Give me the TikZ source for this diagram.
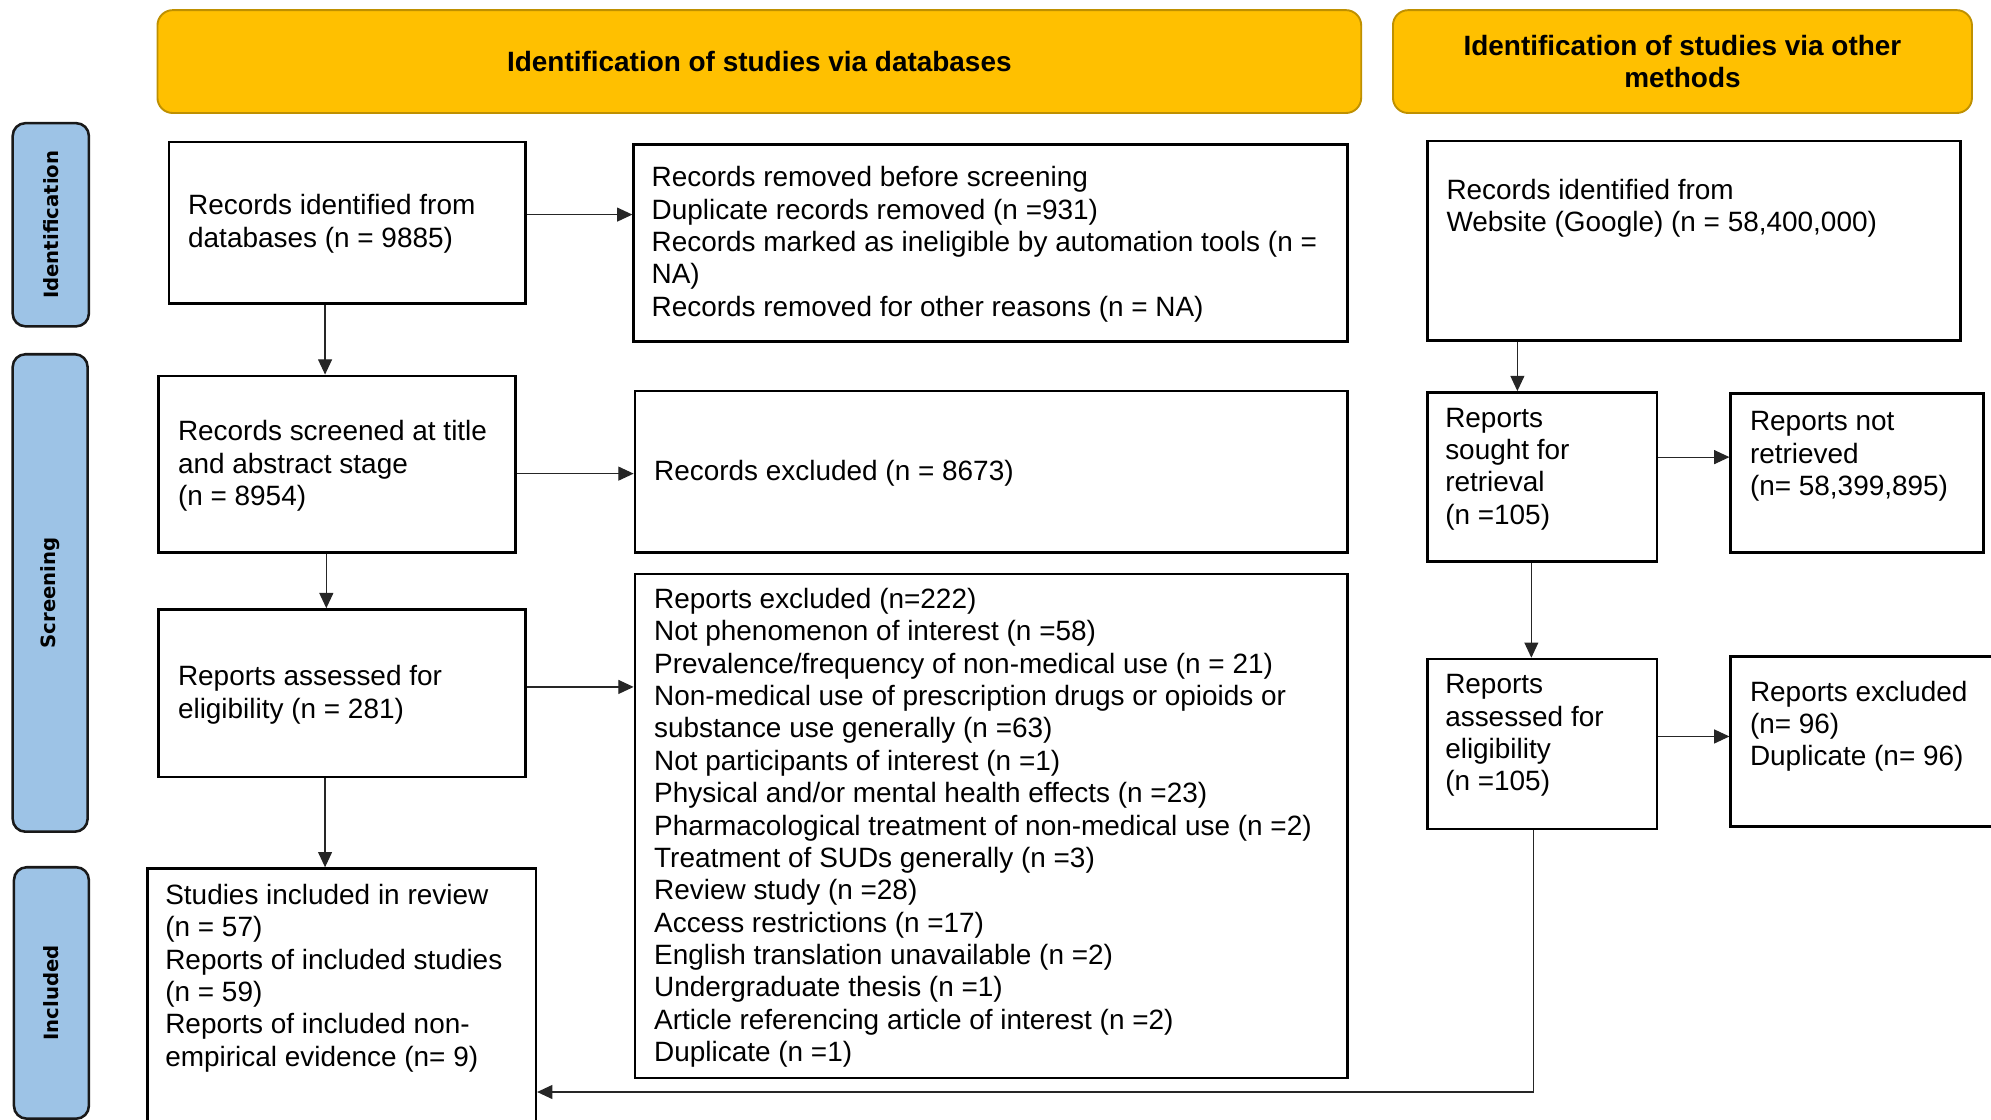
\documentclass[tikz,border=0pt]{standalone}
\usepackage{fontspec}
\setmainfont{Liberation Sans}
\newfontfamily\stagefont{DejaVu Sans}
\usetikzlibrary{arrows.meta}
\definecolor{bannerfill}{HTML}{FFC000}
\definecolor{bannerline}{HTML}{BF9000}
\definecolor{stagefill}{HTML}{9DC3E6}

\begin{document}
\begin{tikzpicture}[x=1pt,y=-1pt,
  every node/.style={font=\fontsize{22}{25.5}\selectfont},
  box/.style={draw=black, line width=2pt, rectangle, anchor=north west, inner sep=0pt},
  txt/.style={anchor=north west, inner sep=0pt, align=left},
  banner/.style={draw=bannerline, fill=bannerfill, line width=1.5pt, rounded corners=12pt,
    align=center, font=\fontsize{22}{25.5}\selectfont\bfseries},
  stage/.style={draw=black!90, fill=stagefill, line width=2pt, rounded corners=10pt,
    rotate=90, inner sep=0pt, font=\stagefont\fontsize{15.5}{18}\selectfont\bfseries},
  arr/.style={draw=black!85, line width=0.9pt, -{Triangle[length=12pt,width=11pt]}},
]
\useasboundingbox (0,0) rectangle (1568,882);
\clip (0,0) rectangle (1568,882);

% column headers
\node[banner, minimum width=948pt, minimum height=81pt] (hdb) at (598,48.5)
  {\raisebox{-2pt}{Identification of studies via databases}};
\node[banner, minimum width=456pt, minimum height=81pt] (hother) at (1325,48.5)
  {Identification of studies via other\\methods};

% stage labels
\node[stage, minimum width=160pt, minimum height=60pt] (sid) at (40,177) {Identification};
\node[stage, minimum width=376pt, minimum height=59pt] (sscr) at (39.5,467) {Screening};
\node[stage, minimum width=198pt, minimum height=59pt] (sinc) at (40.5,782) {Included};

% databases column
\node[box, minimum width=281pt, minimum height=127pt] (a1) at (132,111) {};
\node[txt] (a1t) at (148,153) {Records identified from\\databases (n = 9885)};

\node[box, minimum width=562pt, minimum height=155pt] (a2) at (498,113) {};
\node[txt] (a2t) at (513,131) {Records removed before screening\\Duplicate records removed (n =931)\\Records marked as ineligible by automation tools (n =\\NA)\\Records removed for other reasons (n = NA)};

\node[box, minimum width=281pt, minimum height=139pt] (a3) at (124,295) {};
\node[txt] (a3t) at (140,331) {Records screened at title\\and abstract stage\\(n = 8954)};

\node[box, minimum width=561pt, minimum height=127pt] (a4) at (499,307) {};
\node[txt] (a4t) at (515,362) {Records excluded (n = 8673)};

\node[box, minimum width=289pt, minimum height=132pt] (a5) at (124,479) {};
\node[txt] (a5t) at (140,524) {Reports assessed for\\eligibility (n = 281)};

\node[box, minimum width=561pt, minimum height=397pt] (a6) at (499,451) {};
\node[txt] (a6t) at (515,463) {Reports excluded (n=222)\\Not phenomenon of interest (n =58)\\Prevalence/frequency of non-medical use (n = 21)\\Non-medical use of prescription drugs or opioids or\\substance use generally (n =63)\\Not participants of interest (n =1)\\Physical and/or mental health effects (n =23)\\Pharmacological treatment of non-medical use (n =2)\\Treatment of SUDs generally (n =3)\\Review study (n =28)\\Access restrictions (n =17)\\English translation unavailable (n =2)\\Undergraduate thesis (n =1)\\Article referencing article of interest (n =2)\\Duplicate (n =1)};

\node[box, minimum width=306pt, minimum height=220pt] (a7) at (115,683) {};
\node[txt] (a7t) at (130,696) {Studies included in review\\(n = 57)\\Reports of included studies\\(n = 59)\\Reports of included non-\\empirical evidence (n= 9)};

% other methods column
\node[box, minimum width=420pt, minimum height=157pt] (c1) at (1123,110) {};
\node[txt] (c1t) at (1139,141) {Records identified from\\Website (Google) (n = 58,400,000)};

\node[box, minimum width=181pt, minimum height=133pt] (c2) at (1123,308) {};
\node[txt] (c2t) at (1138,321) {Reports\\sought for\\retrieval\\(n =105)};

\node[box, minimum width=199pt, minimum height=125pt] (c3) at (1362,309) {};
\node[txt] (c3t) at (1378,324) {Reports not\\retrieved\\(n= 58,399,895)};

\node[box, minimum width=181pt, minimum height=134pt] (c4) at (1123,518) {};
\node[txt] (c4t) at (1138,531) {Reports\\assessed for\\eligibility\\(n =105)};

\node[box, minimum width=215pt, minimum height=134pt] (c5) at (1362,516) {};
\node[txt] (c5t) at (1378,536) {Reports excluded\\(n= 96)\\Duplicate (n= 96)};

% connectors
\coordinate (p1) at ([yshift=6.5pt]a1.east);
\draw[arr] (p1) -- (p1 -| a2.west);
\coordinate (p2) at ([xshift=-17.5pt]a1.south);
\draw[arr] (p2) -- (p2 |- a3.north);
\coordinate (p3) at ([yshift=-7.5pt]a3.east);
\draw[arr] (p3) -- (p3 -| a4.west);
\coordinate (p4) at ([xshift=-8.5pt]a3.south);
\draw[arr] (p4) -- (p4 |- a5.north);
\coordinate (p5) at ([yshift=5pt]a5.east);
\draw[arr] (p5) -- (p5 -| a6.west);
\coordinate (p6) at ([xshift=-13.5pt]a5.south);
\draw[arr] (p6) -- (p6 |- a7.north);

\coordinate (p7) at ([xshift=-19.5pt]c2.north);
\draw[arr] (p7 |- c1.south) -- (p7);
\coordinate (p8) at ([yshift=15.5pt]c2.east);
\draw[arr] (p8) -- (p8 -| c3.west);
\coordinate (p9) at ([xshift=-8.5pt]c2.south);
\draw[arr] (p9) -- (p9 |- c4.north);
\coordinate (p10) at ([yshift=6pt]c4.east);
\draw[arr] (p10) -- (p10 -| c5.west);
\coordinate (p11) at ([xshift=-6.5pt]c4.south);
\coordinate (p12) at ([yshift=-66pt]a7.east);
\draw[arr] (p11) |- (p12);
\end{tikzpicture}
\end{document}
